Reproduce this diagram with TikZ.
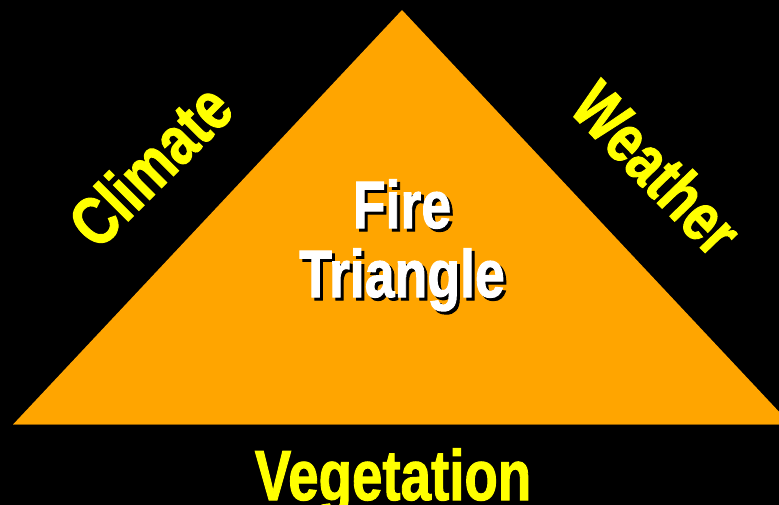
\documentclass[tikz,border=0pt]{standalone}
\usepackage{fontspec}
\setmainfont{Liberation Sans}
\newfontfamily\heavyfont{Liberation Sans Bold}[FakeBold=1.6]
\definecolor{fireorange}{RGB}{255,165,0}
\definecolor{labelyellow}{RGB}{255,255,0}
\definecolor{baseedge}{RGB}{150,95,0}
\begin{document}
\begin{tikzpicture}[x=1pt,y=-1pt,
  lbl/.style={inner sep=0pt, text=labelyellow, font=\heavyfont\fontsize{68}{69}\selectfont},
  ctr/.style={inner sep=0pt, align=center, font=\heavyfont\fontsize{67}{69}\selectfont}]
\fill[black] (0,0) rectangle (779,505);
\useasboundingbox (0,0) rectangle (779,505);
\coordinate (apex) at (402,10);
\coordinate (bl) at (13,424.5);
\coordinate (br) at (791,424.5);
\fill[fireorange] (apex) -- (br) -- (bl) -- cycle;
\draw[baseedge, line width=1pt] (bl) -- (br);
% centre label with shadow
\node[ctr, text=black, anchor=base] (shadow) at (405,300) {\scalebox{0.8}[1]{Fire}\\\scalebox{0.8}[1]{Triangle}};
\node[ctr, text=white, anchor=base] (fire) at (402,297) {\scalebox{0.8}[1]{Fire}\\\scalebox{0.8}[1]{Triangle}};
% side labels
\node[lbl, rotate=45] (climate) at (150,165) {\scalebox{0.8}[1]{Climate}};
\node[lbl, rotate=-46] (weather) at (657,168) {\scalebox{0.78}[1]{Weather}};
\node[lbl, anchor=base, font=\heavyfont\fontsize{71}{72}\selectfont] (veg) at (393,500) {\scalebox{0.77}[1]{Vegetation}};
\end{tikzpicture}
\end{document}
